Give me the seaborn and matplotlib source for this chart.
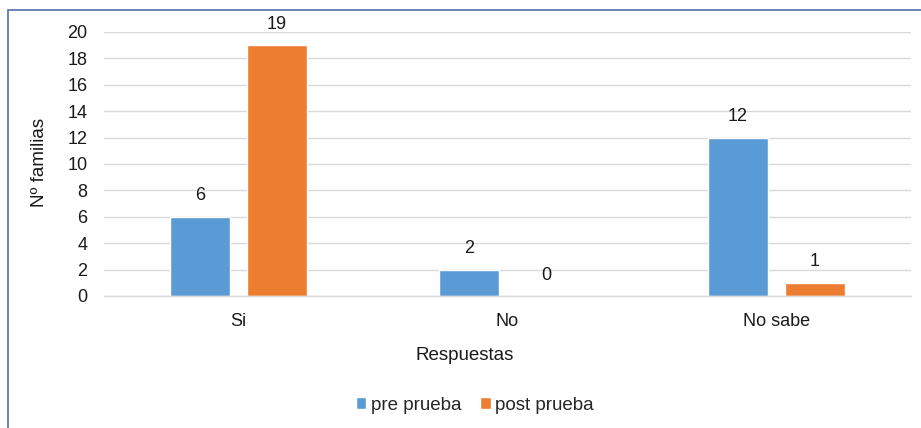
import matplotlib
matplotlib.use("Agg")
import matplotlib.pyplot as plt
import seaborn as sns
import pandas as pd
from matplotlib.patches import Rectangle, Patch

categories = ["Si", "No", "No sabe"]
pre_prueba = [6, 2, 12]
post_prueba = [19, 0, 1]
series_names = ["pre prueba", "post prueba"]
y_ticks = [0, 2, 4, 6, 8, 10, 12, 14, 16, 18, 20]

df = pd.DataFrame({
    "Respuestas": categories * 2,
    "valor": pre_prueba + post_prueba,
    "serie": [series_names[0]] * 3 + [series_names[1]] * 3,
})

sns.set_theme(style="white")
plt.rcParams["font.family"] = ["Liberation Sans", "DejaVu Sans"]

colors = ["#5B9BD5", "#ED7D31"]
fs = 13
fl = 13.5
tc = "#1a1a1a"
fig = plt.figure(figsize=(9.21, 4.28), dpi=100)
ax = fig.add_axes([104 / 921, 1 - 296 / 428, 807 / 921, (296 - 32) / 428])

sns.barplot(data=df, x="Respuestas", y="valor", hue="serie", palette=colors,
            width=0.572, gap=0.22, ax=ax, legend=False, saturation=1)

ax.set_ylim(0, 20)
ax.set_xlim(-0.5, 2.5)
ax.set_yticks(y_ticks)
ax.set_yticklabels([str(t) for t in y_ticks], fontsize=fs, color=tc)
ax.tick_params(axis="x", labelsize=fs, colors=tc, length=0, pad=12)
ax.tick_params(axis="y", length=0, pad=12)
ax.yaxis.grid(True, color="#d9d9d9", linewidth=1)
ax.set_axisbelow(True)
for s in ["top", "right", "left"]:
    ax.spines[s].set_visible(False)
ax.spines["bottom"].set_color("#d9d9d9")
ax.spines["bottom"].set_linewidth(1)

for cont in ax.containers:
    ax.bar_label(cont, padding=9, fontsize=fs, color=tc)

ax.set_xlabel("Respuestas", fontsize=fl, color=tc)
ax.xaxis.set_label_coords((465 - 104) / 807, -(355 - 296) / (296 - 32))
ax.xaxis.label.set_va("center")
ax.set_ylabel("Nº familias", fontsize=fl, color=tc)
ax.yaxis.set_label_coords(-(104 - 40) / 807, (296 - 162) / (296 - 32))
ax.yaxis.label.set_va("center")

handles = [Patch(facecolor=c, label=n) for c, n in zip(colors, series_names)]
fig.legend(handles=handles, loc="center", bbox_to_anchor=(475 / 921, 1 - 405 / 428),
           ncol=2, frameon=False, fontsize=fl, handlelength=0.55, handleheight=0.55,
           handletextpad=0.25, columnspacing=1.0)

fig.add_artist(Rectangle((8 / 921, -0.5), 2, 0.5 + 1 - 9.5 / 428,
                         transform=fig.transFigure, fill=False,
                         edgecolor="#4F6FA8", linewidth=1.2))

fig.savefig("out.png", dpi=100)
